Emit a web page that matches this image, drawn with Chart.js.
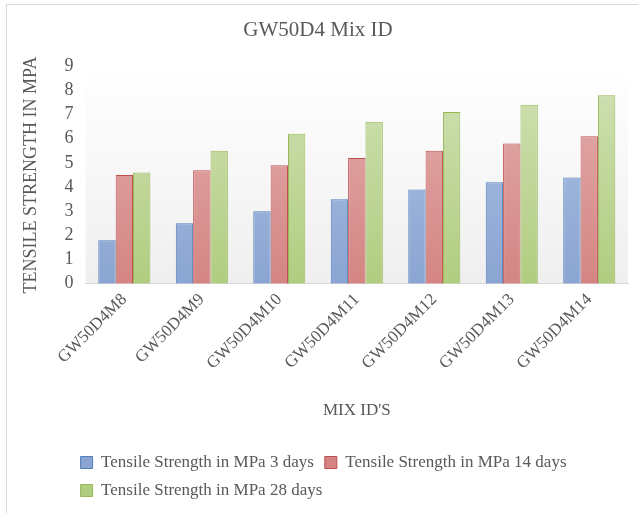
<!DOCTYPE html>
<html>
<head>
<meta charset="utf-8">
<script src="https://cdn.jsdelivr.net/npm/chart.js@4"></script>
<style>
  html, body { margin: 0; padding: 0; background: #ffffff; }
  #wrap { width: 638px; height: 513px; }
</style>
</head>
<body>
<div id="wrap"><canvas id="mixChart" width="638" height="513"></canvas></div>
<script>
const categories = ['GW50D4M8', 'GW50D4M9', 'GW50D4M10', 'GW50D4M11', 'GW50D4M12', 'GW50D4M13', 'GW50D4M14'];
const days3 = [1.8, 2.5, 3.0, 3.5, 3.9, 4.2, 4.4];
const days14 = [4.5, 4.7, 4.9, 5.2, 5.5, 5.8, 6.1];
const days28 = [4.6, 5.5, 6.2, 6.7, 7.1, 7.4, 7.8];
const yTicks = [0, 1, 2, 3, 4, 5, 6, 7, 8, 9];

const textColor = '#595959';
const fontFamily = '"Liberation Serif", "Times New Roman", serif';

// vertical gradient for bars, solid colour for legend boxes
function barFill(top, bottom, solid) {
    return function (c) {
        const area = c.chart.chartArea;
        if (!area || c.type !== 'data') return solid;
        const g = c.chart.ctx.createLinearGradient(0, area.top, 0, area.bottom);
        g.addColorStop(0, top);
        g.addColorStop(1, bottom);
        return g;
    };
}

const backdrop = {
    id: 'backdrop',
    afterLayout(chart) {
        // legend rows start a little left of the plot area
        const lg = chart.legend;
        lg.left -= 16;
        lg.right -= 16;
    },
    beforeDraw(chart) {
        const ctx = chart.ctx;
        const a = chart.chartArea;
        ctx.save();
        // outer frame
        ctx.strokeStyle = '#d9d9d9';
        ctx.lineWidth = 1;
        ctx.strokeRect(6.5, 4.5, 640, 520);
        // plot area shading
        const g = ctx.createLinearGradient(0, a.top, 0, a.bottom);
        g.addColorStop(0, '#ffffff');
        g.addColorStop(1, '#efefef');
        ctx.fillStyle = g;
        ctx.fillRect(a.left, a.top, a.right - a.left, a.bottom - a.top);
        ctx.restore();
    }
};

const ctx = document.getElementById('mixChart').getContext('2d');

new Chart(ctx, {
    type: 'bar',
    data: {
        labels: categories,
        datasets: [{
            label: 'Tensile Strength in MPa 3 days',
            data: days3,
            backgroundColor: barFill('#b0c4e4', '#8aa5d2', '#9db4dc'),
            borderColor: '#4f7fbc',
            borderWidth: 1
        }, {
            label: 'Tensile Strength in MPa 14 days',
            data: days14,
            backgroundColor: barFill('#e3b0af', '#d48583', '#dd9b9a'),
            borderColor: '#be4f4c',
            borderWidth: 1
        }, {
            label: 'Tensile Strength in MPa 28 days',
            data: days28,
            backgroundColor: barFill('#d0e1b5', '#b1cd80', '#c2d89d'),
            borderColor: '#98b857',
            borderWidth: 1
        }]
    },
    options: {
        responsive: false,
        animation: false,
        layout: {
            padding: { top: 10, left: 8, right: 10, bottom: 4 }
        },
        datasets: {
            bar: {
                barPercentage: 1,
                categoryPercentage: 0.672
            }
        },
        scales: {
            x: {
                grid: { display: false, drawTicks: false },
                border: { display: true, color: '#d9d9d9', width: 1 },
                ticks: {
                    color: textColor,
                    font: { family: fontFamily, size: 17 },
                    minRotation: 45,
                    maxRotation: 45,
                    autoSkip: false,
                    padding: 6
                },
                title: {
                    display: true,
                    text: "MIX ID'S",
                    color: textColor,
                    font: { family: fontFamily, size: 17 },
                    padding: { top: 21, bottom: 22 }
                }
            },
            y: {
                min: 0,
                max: 9,
                afterBuildTicks: function (axis) {
                    axis.ticks = yTicks.map(v => ({ value: v }));
                },
                grid: { display: false, drawTicks: false },
                border: { display: false },
                ticks: {
                    color: textColor,
                    font: { family: fontFamily, size: 18 },
                    autoSkip: false,
                    stepSize: 1,
                    padding: 12
                },
                title: {
                    display: true,
                    text: 'TENSILE STRENGTH IN MPA',
                    color: textColor,
                    font: { family: fontFamily, size: 18 },
                    padding: { top: 12, bottom: 11 }
                }
            }
        },
        plugins: {
            title: {
                display: true,
                text: 'GW50D4 Mix ID',
                color: textColor,
                font: { family: fontFamily, size: 21, weight: 'normal' },
                padding: { top: 8, bottom: 23 }
            },
            legend: {
                position: 'bottom',
                align: 'start',
                fullSize: false,
                labels: {
                    color: textColor,
                    font: { family: fontFamily, size: 17 },
                    boxWidth: 12,
                    boxHeight: 12,
                    padding: 11
                }
            },
            tooltip: { enabled: false }
        }
    },
    plugins: [backdrop]
});
</script>
</body>
</html>
